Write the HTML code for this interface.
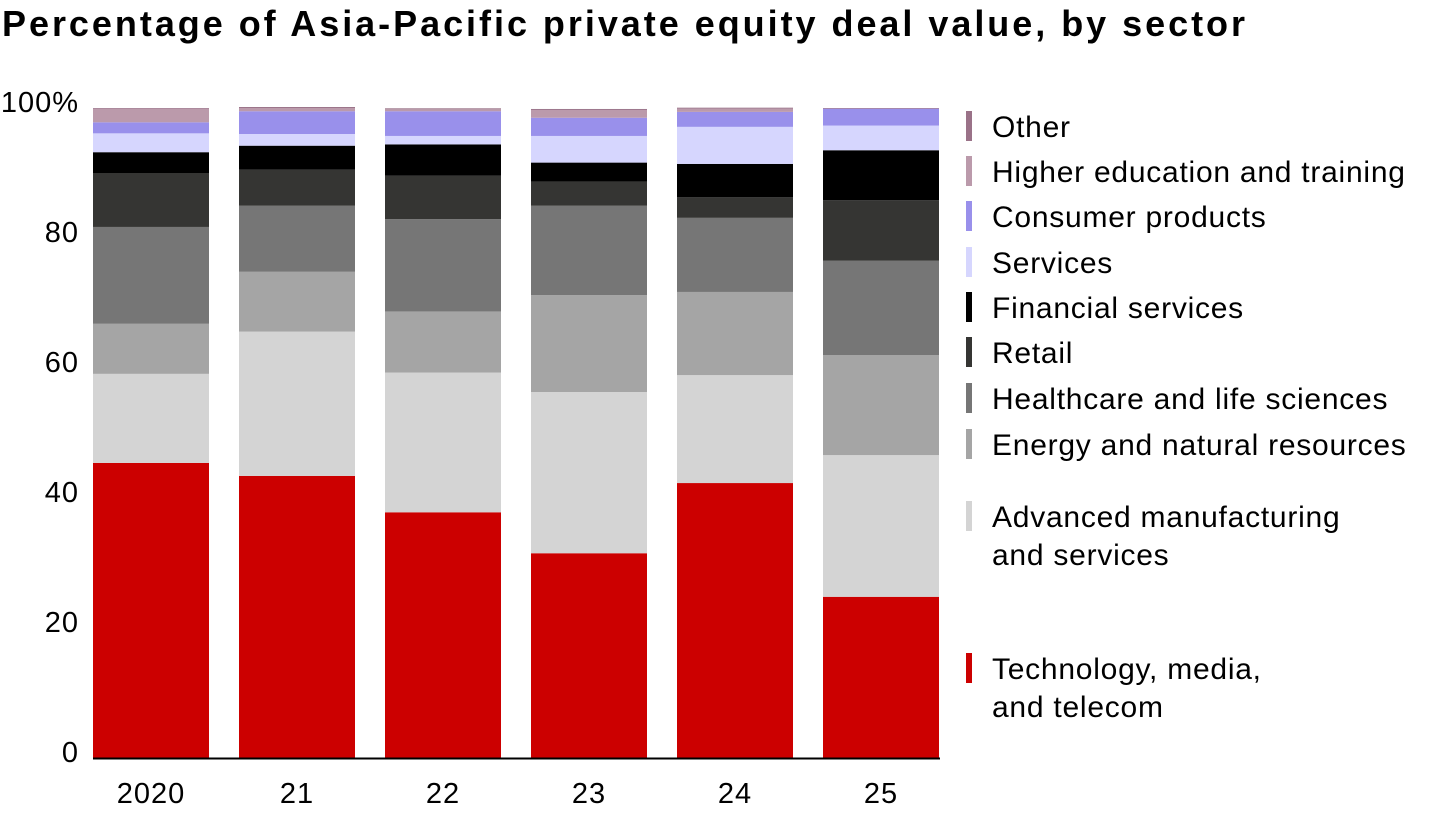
<!DOCTYPE html>
<html><head><meta charset="utf-8">
<style>
html,body{margin:0;padding:0;background:#fff;}
body{width:1440px;height:810px;overflow:hidden;font-family:"Liberation Sans",sans-serif;}
</style></head>
<body>
<svg width="1440" height="810" xmlns="http://www.w3.org/2000/svg">
<text x="2" y="36" font-size="36" font-weight="bold" fill="#000" font-family="Liberation Sans, sans-serif" textLength="1243" lengthAdjust="spacing">Percentage of Asia-Pacific private equity deal value, by sector</text>
<g id="plot"></g>
<g id="legend"></g>
</svg>
<script>
const years = ["2020","21","22","23","24","25"];
const sectors = ["Technology, media, and telecom","Advanced manufacturing and services","Energy and natural resources","Healthcare and life sciences","Retail","Financial services","Services","Consumer products","Higher education and training","Other"];
const colors = ["#cc0000","#d4d4d4","#a5a5a5","#767676","#353533","#000000","#d6d6fe","#9990eb","#bb9aab","#9a7288"];
const tech = [45.4,43.4,37.8,31.5,42.3,24.8];
const advMfg = [13.7,22.2,21.5,24.8,16.6,21.8];
const energy = [7.7,9.2,9.4,14.9,12.8,15.4];
const health = [14.9,10.2,14.2,13.8,11.4,14.5];
const retail = [8.3,5.5,6.7,3.7,3.2,9.3];
const finance = [3.2,3.7,4.8,2.9,5.1,7.7];
const services = [2.9,1.8,1.3,4.1,5.7,3.8];
const consumer = [1.7,3.5,3.8,2.8,2.3,2.6];
const higherEd = [2.1,0.5,0.3,1.2,0.5,0.0];
const other = [0.1,0.15,0.15,0.15,0.15,0.1];
const yTicks = [0,20,40,60,80,100];
const yTickLabels = ["0","20","40","60","80","100%"];

const series = [tech,advMfg,energy,health,retail,finance,services,consumer,higherEd,other];
const NS = "http://www.w3.org/2000/svg";
const y0 = 758, pxPer = 6.5;
const yScale = v => y0 - v * pxPer;
const xScale = i => 93 + i * 146;
const barW = 116;
const plot = document.getElementById('plot');
function mk(tag, attrs){const e=document.createElementNS(NS,tag);for(const k in attrs)e.setAttribute(k,attrs[k]);return e;}

years.forEach((yr,i)=>{
  let cum = 0;
  series.forEach((s,j)=>{
    const v = s[i];
    const r = mk('rect',{x:xScale(i),y:yScale(cum+v),width:barW,height:v*pxPer,fill:colors[j]});
    
    
    plot.appendChild(r);
    cum += v;
  });
  const t = mk('text',{x:xScale(i)+barW/2,y:803,'font-size':29,'letter-spacing':1,'text-anchor':'middle',fill:'#000'});
  t.textContent = yr;
  
  
  plot.appendChild(t);
});
yTicks.forEach((v,k)=>{
  const t = mk('text',{x:79,y:yScale(v)+4,'font-size':29,'letter-spacing':1,'text-anchor':'end',fill:'#000'});
  t.textContent = yTickLabels[k];
  
  
  plot.appendChild(t);
});
const ax = mk('line',{x1:93,x2:940,y1:y0+0.5,y2:y0+0.5,stroke:'#000','stroke-width':2});


plot.appendChild(ax);

const leg = document.getElementById('legend');
const legItems = [
  {i:9,lines:["Other"],y:126},
  {i:8,lines:["Higher education and training"],y:171},
  {i:7,lines:["Consumer products"],y:216},
  {i:6,lines:["Services"],y:262},
  {i:5,lines:["Financial services"],y:307},
  {i:4,lines:["Retail"],y:352},
  {i:3,lines:["Healthcare and life sciences"],y:398},
  {i:2,lines:["Energy and natural resources"],y:444},
  {i:1,lines:["Advanced manufacturing","and services"],y:516},
  {i:0,lines:["Technology, media,","and telecom"],y:668}
];
legItems.forEach(it=>{
  const g = mk('g',{});
  
  
  const m = mk('rect',{x:966,y:it.y-15,width:6,height:30,fill:colors[it.i]});
  
  
  g.appendChild(m);
  it.lines.forEach((ln,k)=>{
    const t = mk('text',{x:992,y:it.y+11+k*38,'font-size':30,'letter-spacing':0.75,fill:'#000'});
    t.textContent = ln;
    
    
    g.appendChild(t);
  });
  leg.appendChild(g);
});
</script>
</body></html>
